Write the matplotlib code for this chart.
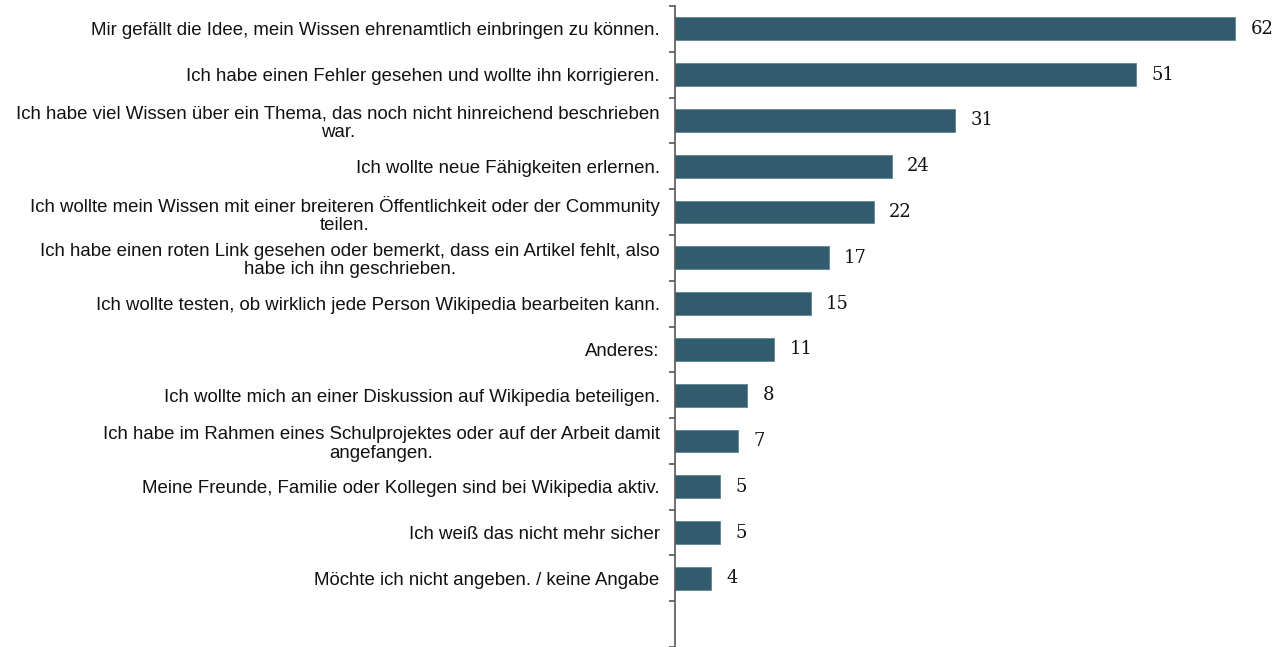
import matplotlib.pyplot as plt
import numpy as np

labels = [
    "Mir gefällt die Idee, mein Wissen ehrenamtlich einbringen zu können.",
    "Ich habe einen Fehler gesehen und wollte ihn korrigieren.",
    "Ich habe viel Wissen über ein Thema, das noch nicht hinreichend beschrieben\nwar.",
    "Ich wollte neue Fähigkeiten erlernen.",
    "Ich wollte mein Wissen mit einer breiteren Öffentlichkeit oder der Community\nteilen.",
    "Ich habe einen roten Link gesehen oder bemerkt, dass ein Artikel fehlt, also\nhabe ich ihn geschrieben.",
    "Ich wollte testen, ob wirklich jede Person Wikipedia bearbeiten kann.",
    "Anderes:",
    "Ich wollte mich an einer Diskussion auf Wikipedia beteiligen.",
    "Ich habe im Rahmen eines Schulprojektes oder auf der Arbeit damit\nangefangen.",
    "Meine Freunde, Familie oder Kollegen sind bei Wikipedia aktiv.",
    "Ich weiß das nicht mehr sicher",
    "Möchte ich nicht angeben. / keine Angabe",
]
values = [62, 51, 31, 24, 22, 17, 15, 11, 8, 7, 5, 5, 4]

plt.rcParams['font.family'] = ['Liberation Sans', 'DejaVu Sans']

fig = plt.figure(figsize=(12.76, 6.47), dpi=100)
ax = fig.add_axes([675 / 1276, 0, 601 / 1276, 641 / 647])

y = np.arange(len(values))
ax.barh(y, values, height=0.5, color='#305C6E', edgecolor='#5F8594', linewidth=0.6)

for yi, v in zip(y, values):
    ax.text(v + 1.7, yi, str(v), va='center', ha='left', fontsize=13,
            family='DejaVu Serif', color='#111111')

ax.set_xlim(0, 66.5)
ax.set_ylim(len(values) + 0.5, -0.5)

ax.set_yticks(np.arange(-0.5, len(values) + 1, 1))
ax.set_yticklabels([])
ax.set_yticks(y, minor=True)
ax.set_yticklabels(labels, minor=True, fontsize=13.4, multialignment='center',
                   linespacing=1.12, color='#111111')
ax.tick_params(axis='y', which='major', length=4, width=1.2, color='#555555', direction='out')
ax.tick_params(axis='y', which='minor', length=0, pad=11)
ax.set_xticks([])

for s in ['top', 'right', 'bottom']:
    ax.spines[s].set_visible(False)
ax.spines['left'].set_color('#555555')
ax.spines['left'].set_linewidth(1.2)

fig.savefig('out.png', dpi=100)
